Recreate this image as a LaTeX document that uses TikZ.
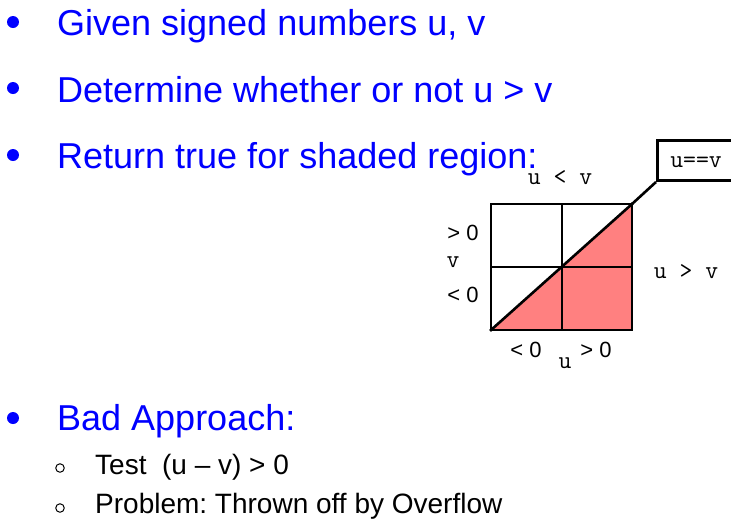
\documentclass[tikz,border=0pt]{standalone}
\usepackage{fontspec}
\setmainfont{Liberation Sans}
\definecolor{salmonfill}{RGB}{255,128,128}
\definecolor{bblue}{RGB}{0,0,255}
\begin{document}
\frenchspacing
\begin{tikzpicture}[x=1pt,y=-1pt,
  bluetext/.style={anchor=base west,inner sep=0pt,text=bblue,font=\fontsize{36}{36}\selectfont},
  blacktext/.style={anchor=base west,inner sep=0pt,text=black,font=\fontsize{28}{28}\selectfont},
  dot/.style={circle,fill=bblue,inner sep=0pt,minimum size=12pt},
  subdot/.style={circle,draw=black,line width=1pt,inner sep=0pt,minimum size=8.5pt},
  monolab/.style={inner sep=0pt,font=\ttfamily\fontsize{25}{25}\selectfont},
  sanslab/.style={inner sep=0pt,font=\fontsize{22}{22}\selectfont},
  gridline/.style={line width=2.6pt,line cap=rect}]
\useasboundingbox (0,0) rectangle (731,523);
\clip (0,0) rectangle (731,523);
% bullets
\node[dot] (b1) at (13,22) {};
\node[dot] (b2) at (13,88) {};
\node[dot] (b3) at (13,155) {};
\node[dot] (b4) at (13,418) {};
\node[bluetext] (t1) at (57,35) {Given signed numbers u, v};
\node[bluetext] (t2) at (57,102) {Determine whether or not u > v};
\node[bluetext] (t3) at (57,168) {Return true for shaded region:};
\node[bluetext] (t4) at (57,430) {Bad Approach:};
\node[subdot] (s1) at (60,468) {};
\node[subdot] (s2) at (60,508) {};
\node[blacktext] (t5) at (95,474) {Test\ \ (u – v) > 0};
\node[blacktext] (t6) at (95,513) {Problem: Thrown off by Overflow};
% grid
\coordinate (BL) at (491,330);
\coordinate (BR) at (632,330);
\coordinate (TL) at (491,204);
\coordinate (TR) at (632,204);
\coordinate (C) at (562,267);
\fill[salmonfill] (BL) -- (BR) -- (TR) -- cycle;
\draw[gridline] (BL) rectangle (TR);
\draw[gridline] (562,204) -- (562,330);
\draw[gridline] (491,267) -- (632,267);
\draw[gridline] (BL) -- (TR);
% u==v box
\node[draw,line width=2.6pt,anchor=south west,minimum width=90pt,minimum height=40pt,inner sep=0pt] (eq) at (656,182) {};
\node[monolab] (eqt) at (696,162) {u==v};
\draw[line width=2.6pt] (TR) -- (eq.south west);
% labels
\node[monolab] (ulv) at (560,178) {u < v};
\node[monolab] (ugv) at (686,272) {u > v};
\node[monolab] (vl) at (453,262) {v};
\node[monolab] (ul) at (565,363) {u};
\node[sanslab] (vp) at (463,233) {> 0};
\node[sanslab] (vn) at (463,295) {< 0};
\node[sanslab] (un) at (526,350) {< 0};
\node[sanslab] (up) at (596,350) {> 0};
\end{tikzpicture}
\end{document}
